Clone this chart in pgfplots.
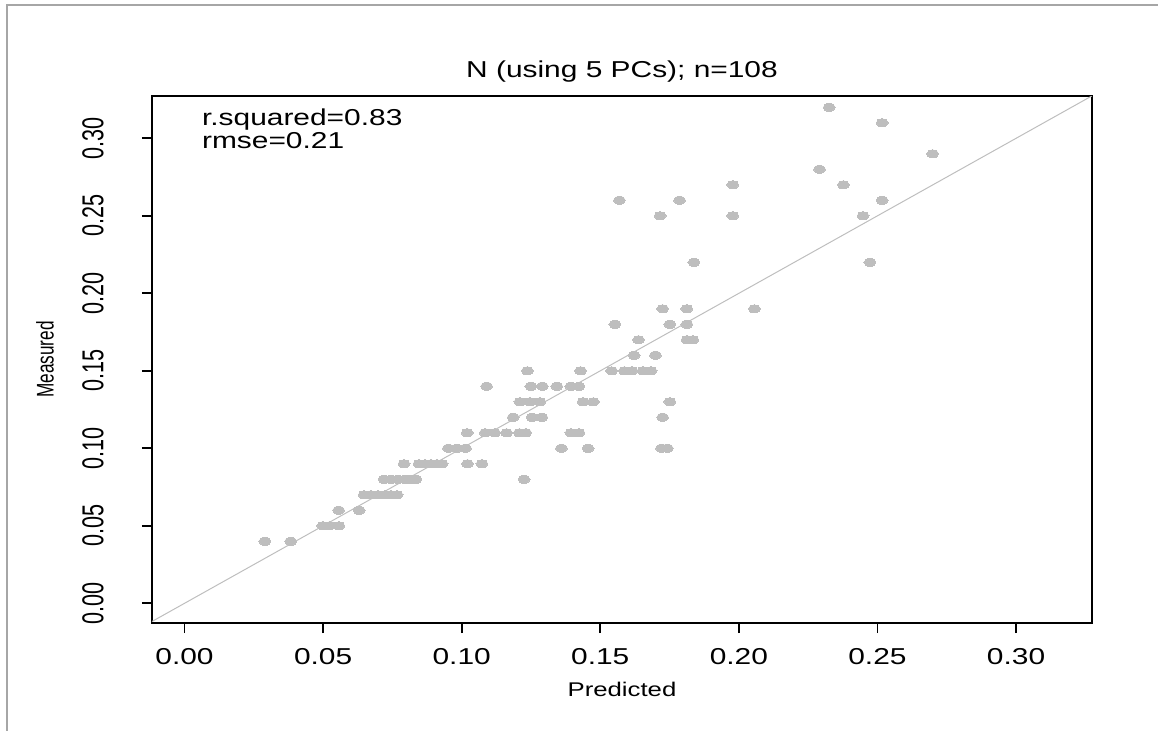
\documentclass[border=0pt]{standalone}
\usepackage{pgfplots}
\pgfplotsset{compat=1.18}
\usepackage{graphicx}
\usepackage{fontspec}
\setmainfont{Liberation Sans}
\definecolor{rgray}{HTML}{BEBEBE}
\newcommand\sx[1]{\scalebox{1.3}[1]{#1}}
\newcommand\sy[1]{\scalebox{1}[1.4]{#1}}
\begin{document}
\begin{tikzpicture}[x=1pt,y=1pt]
\path[use as bounding box] (-76,-53.5) rectangle (503,311.5);
\draw[gray!70, line width=1pt] (-72.5,-60) -- (-72.5,309) -- (510,309);
\begin{axis}[
  at={(0,0)}, anchor=south west,
  scale only axis, width=470pt, height=263.5pt,
  xmin=-0.01173, xmax=0.3274, ymin=-0.0127, ymax=0.3273,
  axis line style={line width=0.9pt},
  tick align=outside, major tick length=5pt,
  tick style={line width=0.9pt, black},
  xtick pos=left, ytick pos=left,
  xtick={0,0.05,0.10,0.15,0.20,0.25,0.30},
  ytick={0,0.05,0.10,0.15,0.20,0.25,0.30},
  xticklabels={\sx{0.00},\sx{0.05},\sx{0.10},\sx{0.15},\sx{0.20},\sx{0.25},\sx{0.30}},
  yticklabels={\sy{0.00},\sy{0.05},\sy{0.10},\sy{0.15},\sy{0.20},\sy{0.25},\sy{0.30}},
  xticklabel style={font=\fontsize{11.5}{12}\selectfont, anchor=center, yshift=-11.75pt},
  yticklabel style={font=\fontsize{10.8}{12}\selectfont, xshift=-24.5pt, rotate=90, anchor=center},
  clip=true,
]
\addplot[rgray, line width=0.5pt] coordinates {(-0.0127,-0.0127) (0.3274,0.3274)};
\addplot[rgray, only marks, mark=*, mark size=2pt, mark options={xscale=1.5, fill=rgray, draw=rgray, line width=0pt}] table {
x y
0.0290 0.04
0.0383 0.04
0.0499 0.05
0.0523 0.05
0.0557 0.05
0.0556 0.06
0.0630 0.06
0.0648 0.07
0.0673 0.07
0.0698 0.07
0.0723 0.07
0.0745 0.07
0.0767 0.07
0.0720 0.08
0.0745 0.08
0.0770 0.08
0.0795 0.08
0.0814 0.08
0.0835 0.08
0.1225 0.08
0.0792 0.09
0.0846 0.09
0.0868 0.09
0.0889 0.09
0.0911 0.09
0.0929 0.09
0.1021 0.09
0.1073 0.09
0.0952 0.10
0.0982 0.10
0.1014 0.10
0.1360 0.10
0.1456 0.10
0.1721 0.10
0.1742 0.10
0.1020 0.11
0.1085 0.11
0.1119 0.11
0.1162 0.11
0.1208 0.11
0.1231 0.11
0.1394 0.11
0.1423 0.11
0.1186 0.12
0.1254 0.12
0.1289 0.12
0.1725 0.12
0.1210 0.13
0.1246 0.13
0.1282 0.13
0.1438 0.13
0.1475 0.13
0.1751 0.13
0.1090 0.14
0.1250 0.14
0.1291 0.14
0.1343 0.14
0.1394 0.14
0.1423 0.14
0.1237 0.15
0.1429 0.15
0.1541 0.15
0.1587 0.15
0.1614 0.15
0.1654 0.15
0.1683 0.15
0.1622 0.16
0.1699 0.16
0.1638 0.17
0.1813 0.17
0.1834 0.17
0.1553 0.18
0.1751 0.18
0.1812 0.18
0.1725 0.19
0.1812 0.19
0.2056 0.19
0.1838 0.22
0.2473 0.22
0.1716 0.25
0.1978 0.25
0.2448 0.25
0.1569 0.26
0.1786 0.26
0.2517 0.26
0.1978 0.27
0.2377 0.27
0.2291 0.28
0.2699 0.29
0.2517 0.31
0.2326 0.32
};
\node[anchor=west, font=\fontsize{11.5}{12}\selectfont, inner sep=0pt] at (axis cs:0.0062,0.3121) {\sx{r.squared=0.83}};
\node[anchor=west, font=\fontsize{11.5}{12}\selectfont, inner sep=0pt] at (axis cs:0.0062,0.2983) {\sx{rmse=0.21}};
\end{axis}
\node[font=\fontsize{11.5}{12}\selectfont] at (235,275.5) {\sx{N (using 5 PCs); n=108}};
\node[font=\fontsize{9.9}{11}\selectfont] at (235,-33) {\sx{Predicted}};
\node[font=\fontsize{8.6}{10}\selectfont, rotate=90] at (-53.5,131.75) {\sy{Measured}};
\end{tikzpicture}
\end{document}
